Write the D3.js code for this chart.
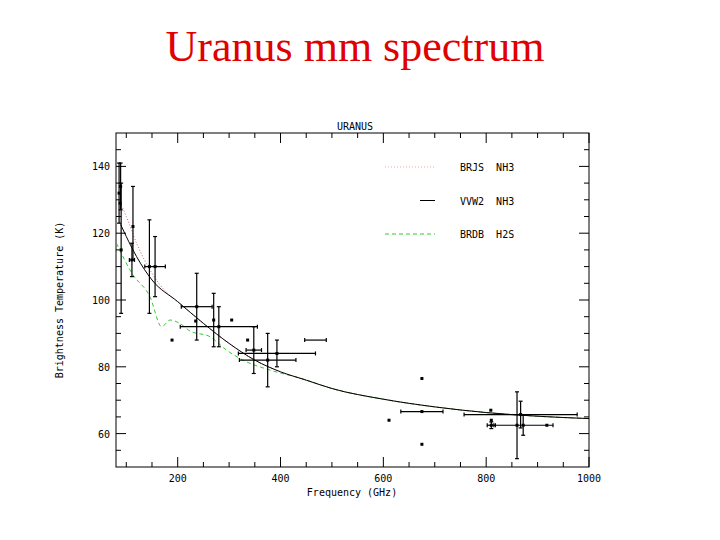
<!DOCTYPE html><html><head><meta charset="utf-8"><script src="https://cdn.jsdelivr.net/npm/d3@7"></script>
<style>body{margin:0;background:#fff}</style></head><body><svg id="c" width="720" height="540"></svg>
<script>
// data: [freq GHz, T K, yerrLow, yerrHigh, xerrLow, xerrHigh]
const points=[
[86,132,9,9,0,0],[90,115,19,20,0,0],[89,134,7,7,0,0],[88,129,0,0,0,0],
[113,122,10,12,0,0],[111,112,5,5,5,5],[145,110,14,14,0,0],[156,110,9,9,20,20],
[237,98,10,10,30,30],[235,93.7,0,0,0,0],[270,94,8,8,0,0],[280,92,6,6,75,75],
[305,94,0,0,0,0],[189,88,0,0,0,0],[336,88,0,0,0,0],[348,85,7,7,15,15],
[375,82,8,8,55,55],[393,84,4,4,75,75],
[675,76.5,0,0,0,0],[675,66.6,0,0,41,41],[675,56.8,0,0,0,0],[611,64,0,0,0,0],
[809,67,0,0,0,0],[810,64,0,0,0,0],[810,62.5,1,1,8,8],[860,62.5,10,10,45,70],
[867,65.7,4,4,110,110],[872,62.5,3,3,0,0],[918,62.5,0,0,0,0]];
const bareBars=[[468,88,21]];
const vvw2=[[89,122.6],[100,119],[120,113],[150,106],[200,99.5],[250,93],[300,87],[350,82],[400,78.5],[450,76],[500,73.5],[600,70.3],[700,68],[800,66.3],[900,65.2],[1000,64.5]];
const brjs=[[86,130],[100,125],[120,117],[150,108],[180,102],[200,99.5],[250,93],[300,87],[350,82],[400,78.5],[450,76],[500,73.5],[600,70.3],[700,68],[800,66.3],[900,65.2],[1000,64.5]];
const brdb=[[81,117],[111,108],[146,101],[169,92],[185,94],[204,93],[224,90.7],[263,89],[295,85],[327,82],[380,79],[441,76.5],[500,73.5],[600,70.3],[700,68],[800,66.3],[900,65.2],[1000,64.5]];
const xTicks=[200,400,600,800,1000], yTicks=[60,80,100,120,140];
const legend=[["BRJS  NH3","#f4a0a0","1,2"],["VVW2  NH3","#000",""],["BRDB  H2S","#3c3","4,3"]];

const svg=d3.select("#c");
const x=d3.scaleLinear([80,1000],[116,589]);
const y=d3.scaleLinear([50,150],[467,133]);
svg.append("text").attr("x",355).attr("y",61).attr("text-anchor","middle").attr("fill","#e00000")
 .attr("font-family","Liberation Serif").attr("font-size",44).text("Uranus mm spectrum");
svg.append("rect").attr("x",116).attr("y",133).attr("width",473).attr("height",334).attr("fill","none").attr("stroke","#000");
const mono="DejaVu Sans Mono", fs=10;
svg.append("text").attr("x",355).attr("y",130).attr("text-anchor","middle").attr("font-family",mono).attr("font-size",fs).text("URANUS");
svg.append("text").attr("x",352).attr("y",496).attr("text-anchor","middle").attr("font-family",mono).attr("font-size",fs).text("Frequency (GHz)");
svg.append("text").attr("transform","translate(63,300) rotate(-90)").attr("text-anchor","middle").attr("font-family",mono).attr("font-size",fs).text("Brightness Temperature (K)");
const g=svg.append("g");
d3.range(100,1001,50).forEach(v=>{const L=v%200==0?10:5;
 g.append("line").attr("x1",x(v)).attr("x2",x(v)).attr("y1",467).attr("y2",467-L).attr("stroke","#000");
 g.append("line").attr("x1",x(v)).attr("x2",x(v)).attr("y1",133).attr("y2",133+L).attr("stroke","#000");});
d3.range(55,150,5).forEach(v=>{const L=v%20==0?10:5;
 g.append("line").attr("y1",y(v)).attr("y2",y(v)).attr("x1",116).attr("x2",116+L).attr("stroke","#000");
 g.append("line").attr("y1",y(v)).attr("y2",y(v)).attr("x1",589).attr("x2",589-L).attr("stroke","#000");});
xTicks.forEach(v=>g.append("text").attr("x",x(v)).attr("y",482).attr("text-anchor","middle").attr("font-family",mono).attr("font-size",fs).text(v));
yTicks.forEach(v=>g.append("text").attr("x",110).attr("y",y(v)+4).attr("text-anchor","end").attr("font-family",mono).attr("font-size",fs).text(v));
const line=d3.line().x(d=>x(d[0])).y(d=>y(d[1])).curve(d3.curveMonotoneX);
svg.append("path").attr("d",line(brdb)).attr("fill","none").attr("stroke","#3c3").attr("stroke-width",1).attr("stroke-dasharray","4,3");
svg.append("path").attr("d",line(brjs)).attr("fill","none").attr("stroke","#c66").attr("stroke-width",1).attr("stroke-dasharray","1,2");
svg.append("path").attr("d",line(vvw2)).attr("fill","none").attr("stroke","#000").attr("stroke-width",1);
const p=svg.append("g").attr("stroke","#000").attr("stroke-width",1.2);
points.forEach(d=>{const cx=x(d[0]),cy=y(d[1]);
 if(d[2]||d[3]){p.append("line").attr("x1",cx).attr("x2",cx).attr("y1",y(d[1]-d[2])).attr("y2",y(d[1]+d[3]));
  [d[1]-d[2],d[1]+d[3]].forEach(v=>p.append("line").attr("x1",cx-2).attr("x2",cx+2).attr("y1",y(v)).attr("y2",y(v)));}
 if(d[4]||d[5]){p.append("line").attr("y1",cy).attr("y2",cy).attr("x1",x(d[0]-d[4])).attr("x2",x(d[0]+d[5]));
  [d[0]-d[4],d[0]+d[5]].forEach(v=>p.append("line").attr("y1",cy-2).attr("y2",cy+2).attr("x1",x(v)).attr("x2",x(v)));}
 p.append("rect").attr("x",cx-1.5).attr("y",cy-1.5).attr("width",3).attr("height",3).attr("fill","#000").attr("stroke","none");});
bareBars.forEach(d=>{p.append("line").attr("y1",y(d[1])).attr("y2",y(d[1])).attr("x1",x(d[0]-d[2])).attr("x2",x(d[0]+d[2]));
 [d[0]-d[2],d[0]+d[2]].forEach(v=>p.append("line").attr("y1",y(d[1])-2).attr("y2",y(d[1])+2).attr("x1",x(v)).attr("x2",x(v)));});
legend.forEach((l,i)=>{const yy=167+i*33.5;
 svg.append("line").attr("x1",i==1?420:385).attr("x2",435).attr("y1",yy).attr("y2",yy).attr("stroke",l[1]).attr("stroke-dasharray",l[2]);
 svg.append("text").attr("x",460).attr("y",yy+4).attr("font-family",mono).attr("font-size",fs).attr("xml:space","preserve").text(l[0]);});
</script></body></html>
